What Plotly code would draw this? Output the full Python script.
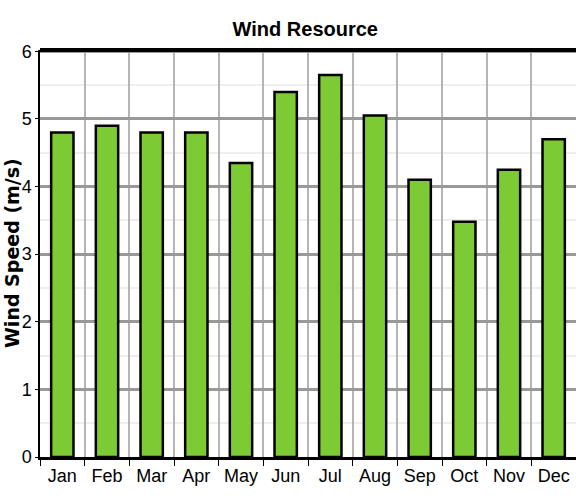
import plotly.graph_objects as go

months = ["Jan", "Feb", "Mar", "Apr", "May", "Jun", "Jul", "Aug", "Sep", "Oct", "Nov", "Dec"]
wind_speed = [4.8, 4.9, 4.8, 4.8, 4.35, 5.4, 5.65, 5.05, 4.1, 3.48, 4.25, 4.7]
y_ticks = [0, 1, 2, 3, 4, 5, 6]

fig = go.Figure()
fig.add_trace(go.Bar(
    x=months, y=wind_speed,
    width=0.5,
    marker=dict(color="#7dcb34", line=dict(color="black", width=2.5)),
))

fig.update_layout(
    title=dict(text="<b>Wind Resource</b>", x=0.53, xanchor="center", y=0.955,
               font=dict(family="Liberation Sans", size=20, color="black")),
    width=576, height=498,
    margin=dict(l=40, r=0, t=50, b=41),
    plot_bgcolor="white", paper_bgcolor="white",
    showlegend=False,
    font=dict(family="Liberation Sans", color="black"),
)

fig.update_xaxes(
    tickson="boundaries", ticks="outside", ticklen=6, tickcolor="black",
    showgrid=True, gridcolor="#b5b5b5", gridwidth=1.5,
    showline=True, linecolor="black", linewidth=3,
    tickfont=dict(size=18), range=[-0.5, 11.5], automargin=False,
)
fig.update_yaxes(
    range=[0, 6.02], tickvals=y_ticks, ticks="outside", ticklen=3, tickcolor="black",
    showgrid=True, gridcolor="#999999", gridwidth=2.5,
    minor=dict(dtick=0.5, showgrid=True, gridcolor="#eeeeee", gridwidth=2),
    showline=True, linecolor="black", linewidth=1.5,
    tickfont=dict(size=18), zeroline=False, automargin=False,
)
# y-axis title as a rotated annotation so it sits left of the tick labels
fig.add_annotation(
    text="<b>Wind Speed (m/s)</b>", textangle=-90, showarrow=False,
    xref="paper", yref="paper", x=-0.053, y=0.5, xanchor="center", yanchor="middle",
    font=dict(family="DejaVu Sans", size=19, color="black"),
)
# thick frame line along the top
fig.add_shape(type="line", xref="paper", yref="paper", x0=0, x1=1, y0=1, y1=1,
              line=dict(color="black", width=4))

fig.write_html("out.html", config={"displayModeBar": False},
               post_script="document.body.style.margin='0px';")
